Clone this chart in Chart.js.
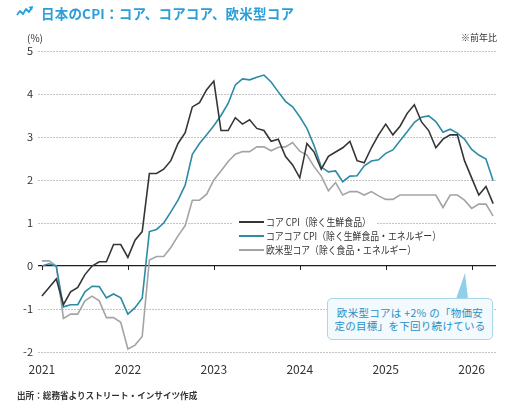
<!DOCTYPE html>
<html lang="ja">
<head>
<meta charset="utf-8">
<script src="https://cdn.jsdelivr.net/npm/chart.js@4"></script>
<style>
  html, body { margin: 0; padding: 0; background: #fff; }
  body { font-family: "Noto Sans CJK JP", "Noto Sans", sans-serif; color: #333; }
  #wrap { position: relative; width: 516px; height: 405px; overflow: hidden; }
  #chart { position: absolute; left: 0; top: 0; }
  .abs { position: absolute; white-space: nowrap; }
  #title { left: 41px; top: 3px; font-size: 13.5px; font-weight: bold; color: #2a9fd8; line-height: 20px; letter-spacing: 0.2px; }
  #icon { left: 16px; top: 6px; }
  #unit { left: 27px; top: 31px; font-size: 10px; line-height: 14px; }
  #note { right: 19px; top: 31px; font-size: 9px; line-height: 14px; }
  #source { left: 17px; top: 388px; font-size: 8.6px; font-weight: bold; line-height: 14px; }
  #callout { left: 327px; top: 298px; width: 166px; height: 40px; border: 1px solid #a8d6ea; border-radius: 5px;
             background: #f2fafd; color: #2a8fc6; font-size: 10.5px; line-height: 13px; text-align: center;
             padding-top: 7px; box-sizing: border-box; letter-spacing: 0.3px; height: 42px; }
  #pointer { left: 0; top: 0; }
</style>
</head>
<body>
<div id="wrap">
  <canvas id="chart" width="516" height="405"></canvas>
  <svg id="icon" class="abs" width="18" height="12" viewBox="0 0 18 12">
    <polyline points="1,9 4,5 7,8 10,3 13,6 16,1" fill="none" stroke="#2a9fd8" stroke-width="1.8" stroke-linejoin="round"/>
    <polygon points="17,0 12.5,1 16,4.5" fill="#2a9fd8"/>
  </svg>
  <div id="title" class="abs">日本のCPI：コア、コアコア、欧米型コア</div>
  <div id="unit" class="abs">(%)</div>
  <div id="note" class="abs">※前年比</div>
  <svg id="pointer" class="abs" width="516" height="405">
    <polygon points="456,299 468,299 465,273" fill="#8fcfe9"/>
  </svg>
  <div id="callout" class="abs">欧米型コアは +2% の「物価安<br>定の目標」を下回り続けている</div>
  <div id="source" class="abs">出所：総務省よりストリート・インサイツ作成</div>
</div>
<script>
// monthly, Jan 2021 .. Apr 2026 (y/y %)
const coreCpi = [
  -0.7, -0.5, -0.3, -0.9, -0.6, -0.5, -0.2, 0.0, 0.1, 0.1, 0.5, 0.5,
  0.2, 0.6, 0.8, 2.15, 2.15, 2.25, 2.45, 2.85, 3.1, 3.7, 3.8, 4.1,
  4.3, 3.15, 3.15, 3.45, 3.3, 3.4, 3.2, 3.15, 2.9, 2.95, 2.55, 2.35,
  2.05, 2.85, 2.65, 2.25, 2.55, 2.65, 2.75, 2.9, 2.45, 2.4, 2.75, 3.05,
  3.3, 3.05, 3.25, 3.55, 3.75, 3.35, 3.15, 2.75, 2.95, 3.05, 3.05, 2.45,
  2.05, 1.65, 1.85, 1.45
];
const coreCoreCpi = [
  0.0, 0.05, 0.0, -0.95, -0.9, -0.9, -0.6, -0.47, -0.48, -0.74, -0.65, -0.74,
  -1.12, -0.97, -0.75, 0.8, 0.85, 1.0, 1.26, 1.53, 1.88, 2.6, 2.85, 3.05,
  3.26, 3.5, 3.78, 4.21, 4.35, 4.33, 4.39, 4.44, 4.28, 4.05, 3.83, 3.7,
  3.47, 3.2, 2.8, 2.3, 2.19, 2.21, 1.96, 2.09, 2.1, 2.33, 2.44, 2.47,
  2.62, 2.7, 2.91, 3.12, 3.34, 3.46, 3.49, 3.36, 3.11, 3.18, 3.09, 2.95,
  2.71, 2.58, 2.49, 1.98
];
const westernCore = [
  0.12, 0.12, 0.0, -1.22, -1.12, -1.12, -0.81, -0.7, -0.81, -1.2, -1.2, -1.31,
  -1.93, -1.84, -1.64, 0.14, 0.22, 0.22, 0.43, 0.7, 0.94, 1.53, 1.53, 1.67,
  2.0, 2.21, 2.43, 2.6, 2.66, 2.66, 2.77, 2.77, 2.68, 2.76, 2.77, 2.87,
  2.67, 2.58, 2.31, 2.09, 1.75, 1.94, 1.65, 1.73, 1.73, 1.65, 1.73, 1.63,
  1.55, 1.55, 1.65, 1.65, 1.65, 1.65, 1.65, 1.65, 1.36, 1.65, 1.65, 1.53,
  1.34, 1.44, 1.44, 1.16
];
const seriesNames = [
  'コア CPI（除く生鮮食品）',
  'コアコア CPI（除く生鮮食品・エネルギー）',
  '欧米型コア（除く食品・エネルギー）'
];
const yearTicks = [0, 12, 24, 36, 48, 60];
const yearLabels = ['2021', '2022', '2023', '2024', '2025', '2026'];

const FONT = '"Noto Sans CJK JP", "Noto Sans", sans-serif';
const toPoints = arr => arr.map((v, i) => ({ x: i, y: v }));

// legend drawn inside the plot, with white strips behind each row
const legendWidths = [105, 175, 150];
const innerLegend = {
  id: 'innerLegend',
  beforeDatasetsDraw(chart) {
    const ctx = chart.ctx;
    ctx.save();
    ctx.font = '10.5px ' + FONT;
    ctx.textBaseline = 'middle';
    chart.data.datasets.forEach((ds, i) => {
      const y = 222 + i * 14;
      ctx.fillStyle = '#fff';
      ctx.fillRect(232, y - 6, 266 + legendWidths[i] - 232 + 6, 13);
      ctx.strokeStyle = ds.borderColor;
      ctx.lineWidth = 2;
      ctx.beginPath();
      ctx.moveTo(239, y);
      ctx.lineTo(264, y);
      ctx.stroke();
      ctx.fillStyle = '#333';
      ctx.fillText(ds.label, 266, y + 0.5, legendWidths[i]);
    });
    ctx.restore();
  }
};

// small year ticks hanging off the zero line
const zeroTicks = {
  id: 'zeroTicks',
  afterDraw(chart) {
    const { ctx, scales: { x, y } } = chart;
    const y0 = y.getPixelForValue(0);
    ctx.save();
    ctx.strokeStyle = '#222';
    ctx.lineWidth = 1;
    yearTicks.forEach(v => {
      const px = Math.round(x.getPixelForValue(v)) + 0.5;
      ctx.beginPath();
      ctx.moveTo(px, y0);
      ctx.lineTo(px, y0 + 4);
      ctx.stroke();
    });
    ctx.restore();
  }
};

new Chart(document.getElementById('chart').getContext('2d'), {
  type: 'line',
  data: {
    datasets: [
      { label: seriesNames[0], data: toPoints(coreCpi), borderColor: '#353535' },
      { label: seriesNames[1], data: toPoints(coreCoreCpi), borderColor: '#2d8ba6' },
      { label: seriesNames[2], data: toPoints(westernCore), borderColor: '#a4a4a4' }
    ]
  },
  options: {
    responsive: false,
    animation: false,
    layout: { padding: { left: 0, right: 20, top: 51, bottom: 23 } },
    elements: {
      line: { borderWidth: 1.6, tension: 0, fill: false },
      point: { radius: 0 }
    },
    plugins: {
      legend: { display: false },
      tooltip: { enabled: false }
    },
    scales: {
      x: {
        type: 'linear',
        min: -0.55,
        max: 63.4,
        afterBuildTicks: scale => { scale.ticks = yearTicks.map(v => ({ value: v })); },
        afterFit: scale => { scale.height = 30; },
        grid: { display: false, drawTicks: false },
        border: { display: false },
        ticks: {
          autoSkip: false,
          maxRotation: 0,
          padding: 10,
          color: '#333',
          font: { family: FONT, size: 12 },
          callback: v => yearLabels[yearTicks.indexOf(v)]
        }
      },
      y: {
        min: -2,
        max: 5,
        afterFit: scale => { scale.width = 38; },
        grid: {
          drawTicks: false,
          color: c => (c.tick && c.tick.value === 0 ? '#1e1e1e' : '#bdbdbd'),
          lineWidth: c => (c.tick && c.tick.value === 0 ? 1.3 : 0.9)
        },
        border: {
          display: false,
          dash: c => (c.tick && c.tick.value === 0 ? [] : [2, 1])
        },
        ticks: {
          stepSize: 1,
          padding: 5,
          color: '#333',
          font: { family: FONT, size: 11 }
        }
      }
    }
  },
  plugins: [innerLegend, zeroTicks]
});
</script>
</body>
</html>
